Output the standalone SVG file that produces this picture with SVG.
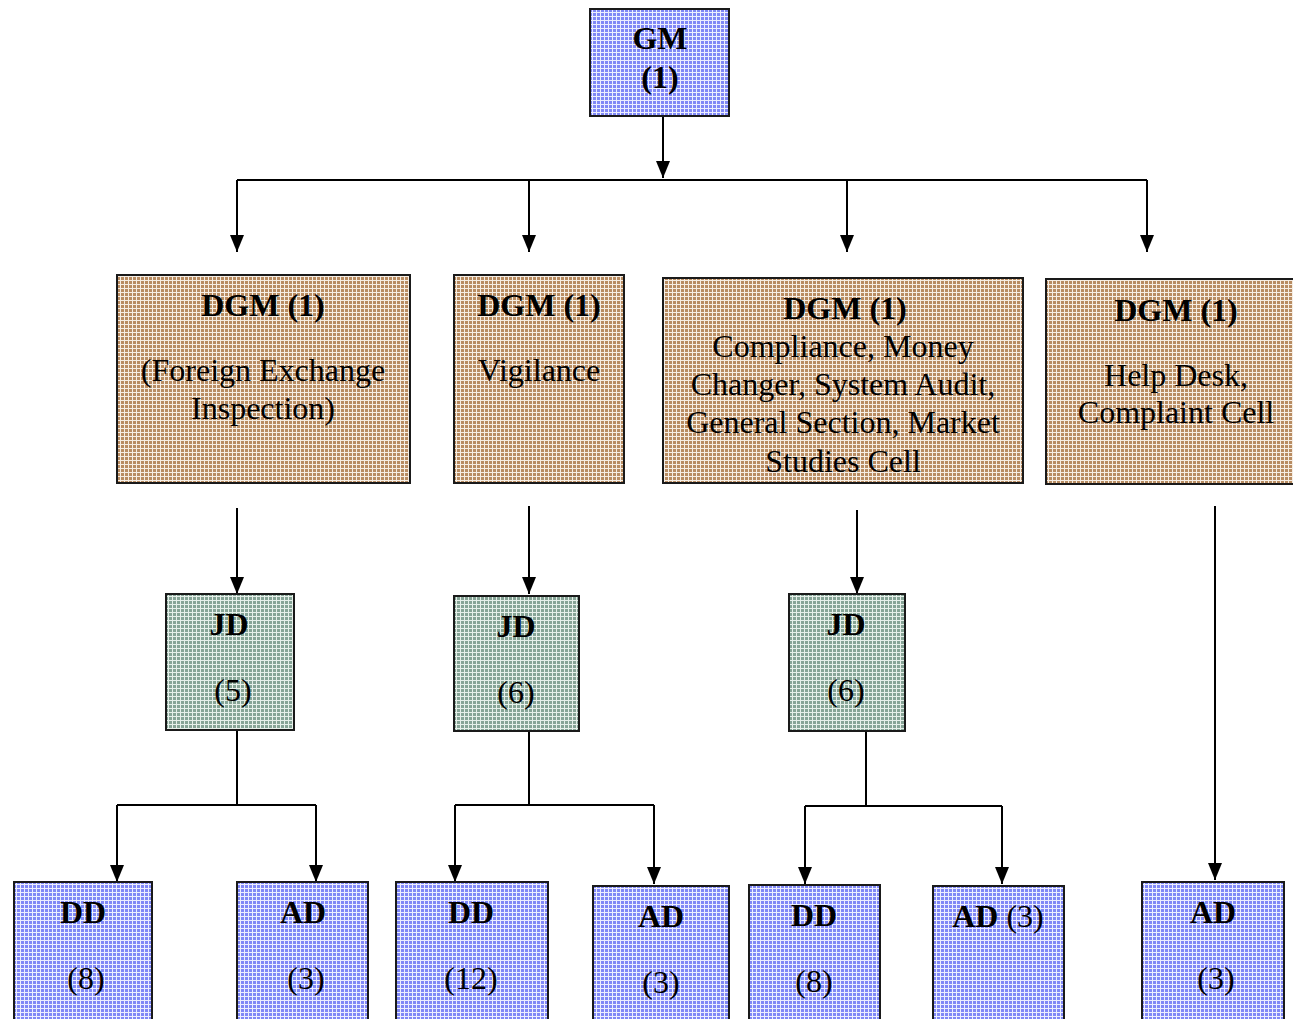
<svg xmlns="http://www.w3.org/2000/svg" width="1293" height="1019" viewBox="0 0 1293 1019">
<style>
text{font-family:"Liberation Serif","Times New Roman",serif;fill:#000;text-anchor:middle}
.b{font-weight:bold;font-size:32px}
.r{font-size:32px}
.box{stroke:#1a1a1a;stroke-width:2}
.blue{fill:url(#pBlue)}
.brown{fill:url(#pBrown)}
.green{fill:url(#pGreen)}
.ln{stroke:#000;stroke-width:2;fill:none}
.ar{stroke:#000;stroke-width:2;fill:none;marker-end:url(#ah)}
</style>
<defs>
<marker id="ah" markerWidth="17" markerHeight="14" refX="17" refY="7" orient="auto" markerUnits="userSpaceOnUse" viewBox="0 0 17 14">
<path d="M0,0 L17,7 L0,14 Z" fill="#000"/>
</marker>
<pattern id="pBlue" width="4" height="4" patternUnits="userSpaceOnUse">
<rect width="4" height="4" fill="#8088f6"/>
<path d="M0,0.5H4M0.5,0V4" stroke="#eceeff" stroke-width="1"/>
</pattern>
<pattern id="pBrown" width="4" height="4" patternUnits="userSpaceOnUse">
<rect width="4" height="4" fill="#b88c62"/>
<path d="M0,0.5H4M0.5,0V4" stroke="#f6eee4" stroke-width="1"/>
</pattern>
<pattern id="pGreen" width="4" height="4" patternUnits="userSpaceOnUse">
<rect width="4" height="4" fill="#86a496"/>
<path d="M0,0.5H4M0.5,0V4" stroke="#e6f0ea" stroke-width="1"/>
</pattern>
</defs>
<rect width="1293" height="1019" fill="#fff"/>

<g id="connectors">
<line class="ar" x1="663" y1="117" x2="663" y2="178"/>
<line class="ln" x1="237" y1="180" x2="1147" y2="180"/>
<line class="ar" x1="237" y1="180" x2="237" y2="252"/>
<line class="ar" x1="529" y1="180" x2="529" y2="252"/>
<line class="ar" x1="847" y1="180" x2="847" y2="252"/>
<line class="ar" x1="1147" y1="180" x2="1147" y2="252"/>
<line class="ar" x1="237" y1="508" x2="237" y2="594"/>
<line class="ar" x1="529" y1="506" x2="529" y2="594"/>
<line class="ar" x1="857" y1="510" x2="857" y2="594"/>
<line class="ar" x1="1215" y1="506" x2="1215" y2="880"/>
<path class="ln" d="M237,731V805M117,805H316"/>
<line class="ar" x1="117" y1="805" x2="117" y2="882"/>
<line class="ar" x1="316" y1="805" x2="316" y2="882"/>
<path class="ln" d="M529,732V805M455,805H654"/>
<line class="ar" x1="455" y1="805" x2="455" y2="882"/>
<line class="ar" x1="654" y1="805" x2="654" y2="884"/>
<path class="ln" d="M866,732V806M805,806H1002"/>
<line class="ar" x1="805" y1="806" x2="805" y2="884"/>
<line class="ar" x1="1002" y1="806" x2="1002" y2="884"/>
</g>

<g id="gm">
<rect class="box blue" x="590" y="9" width="139" height="107"/>
<text class="b" x="660" y="49">GM</text>
<text class="b" x="660" y="88">(1)</text>
</g>

<g id="dgm1">
<rect class="box brown" x="117" y="275" width="293" height="208"/>
<text class="b" x="263" y="316">DGM (1)</text>
<text class="r" x="263" y="381">(Foreign Exchange</text>
<text class="r" x="263" y="419">Inspection)</text>
</g>
<g id="dgm2">
<rect class="box brown" x="454" y="275" width="170" height="208"/>
<text class="b" x="539" y="316">DGM (1)</text>
<text class="r" x="539" y="381">Vigilance</text>
</g>
<g id="dgm3">
<rect class="box brown" x="663" y="278" width="360" height="205"/>
<text class="b" x="845" y="319">DGM (1)</text>
<text class="r" x="843" y="357">Compliance, Money</text>
<text class="r" x="843" y="395">Changer, System Audit,</text>
<text class="r" x="843" y="433">General Section, Market</text>
<text class="r" x="843" y="472">Studies Cell</text>
</g>
<g id="dgm4">
<rect class="box brown" x="1046" y="279" width="250" height="205"/>
<text class="b" x="1176" y="321">DGM (1)</text>
<text class="r" x="1176" y="386">Help Desk,</text>
<text class="r" x="1176" y="423">Complaint Cell</text>
</g>

<g id="jd1">
<rect class="box green" x="166" y="594" width="128" height="136"/>
<text class="b" x="229" y="635">JD</text>
<text class="r" x="233" y="701">(5)</text>
</g>
<g id="jd2">
<rect class="box green" x="454" y="596" width="125" height="135"/>
<text class="b" x="516" y="637">JD</text>
<text class="r" x="516" y="703">(6)</text>
</g>
<g id="jd3">
<rect class="box green" x="789" y="594" width="116" height="137"/>
<text class="b" x="846" y="635">JD</text>
<text class="r" x="846" y="701">(6)</text>
</g>

<g id="dd1">
<rect class="box blue" x="14" y="882" width="138" height="140"/>
<text class="b" x="83" y="923">DD</text>
<text class="r" x="86" y="989">(8)</text>
</g>
<g id="ad1">
<rect class="box blue" x="237" y="882" width="131" height="140"/>
<text class="b" x="303" y="923">AD</text>
<text class="r" x="306" y="989">(3)</text>
</g>
<g id="dd2">
<rect class="box blue" x="396" y="882" width="152" height="140"/>
<text class="b" x="471" y="923">DD</text>
<text class="r" x="471" y="989">(12)</text>
</g>
<g id="ad2">
<rect class="box blue" x="593" y="886" width="136" height="136"/>
<text class="b" x="661" y="927">AD</text>
<text class="r" x="661" y="993">(3)</text>
</g>
<g id="dd3">
<rect class="box blue" x="749" y="885" width="131" height="137"/>
<text class="b" x="814" y="926">DD</text>
<text class="r" x="814" y="992">(8)</text>
</g>
<g id="ad3">
<rect class="box blue" x="933" y="886" width="131" height="136"/>
<text x="998" y="927" class="r"><tspan font-weight="bold">AD</tspan> (3)</text>
</g>
<g id="ad4">
<rect class="box blue" x="1142" y="882" width="142" height="140"/>
<text class="b" x="1213" y="923">AD</text>
<text class="r" x="1216" y="989">(3)</text>
</g>
</svg>
